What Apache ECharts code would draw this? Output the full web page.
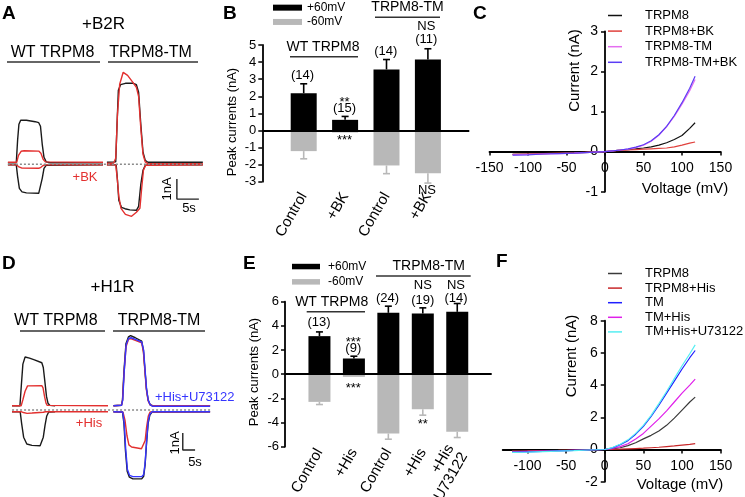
<!DOCTYPE html>
<html><head><meta charset="utf-8">
<script src="https://cdn.jsdelivr.net/npm/echarts@6/dist/echarts.min.js"></script>
<style>html,body{margin:0;padding:0;background:#fff}#c{width:745px;height:497px}</style>
</head><body><div id="c"></div>
<script>
// ---------- Panel A traces [time s, current nA] ----------
const aWtCtrlPos = [[1.8,0.08],[3.7,0.08],[4.0,1.2],[4.3,2.0],[4.7,2.2],[6,2.2],[8,2.13],[8.8,2.08],[9.2,1.9],[9.6,1.0],[10.0,0.35],[10.5,0.12],[11.4,0.08],[23.4,0.08]];
const aWtCtrlNeg = [[1.8,-0.03],[3.7,-0.03],[4.0,-0.6],[4.4,-1.2],[5.0,-1.38],[6,-1.43],[8.8,-1.45],[9.2,-1.35],[9.6,-0.7],[10.0,-0.2],[10.5,-0.05],[23.4,-0.03]];
const aWtBkPos = [[1.8,0.1],[3.8,0.1],[4.2,0.45],[4.8,0.65],[5.5,0.68],[8.8,0.66],[9.3,0.55],[9.8,0.25],[10.3,0.12],[23.4,0.1]];
const aWtBkNeg = [[1.8,-0.03],[3.8,-0.03],[4.3,-0.13],[5,-0.19],[8.8,-0.2],[9.3,-0.15],[9.8,-0.06],[10.3,-0.03],[23.4,-0.03]];
const aTmCtrlPos = [[24.3,0.1],[26.3,0.12],[26.6,2.0],[26.9,3.7],[27.4,3.98],[28.5,4.05],[30.3,4.05],[31.0,3.98],[31.5,3.6],[32.0,2.0],[32.5,0.6],[33.0,0.2],[33.6,0.1],[46.1,0.1]];
const aTmCtrlNeg = [[24.3,-0.03],[26.4,-0.03],[26.7,-0.8],[27.0,-1.8],[27.6,-2.15],[28.4,-2.22],[29.5,-2.28],[31.0,-2.3],[31.5,-2.1],[32.0,-1.0],[32.5,-0.3],[33.0,-0.06],[33.6,-0.03],[46.1,-0.03]];
const aTmBkPos = [[24.3,0.05],[25.8,0.05],[26.1,0.15],[26.3,0.3],[26.7,2.5],[27.2,4.0],[28.0,4.6],[28.3,4.65],[29.0,4.45],[30.2,4.1],[31.0,3.85],[31.5,3.4],[32.0,1.8],[32.5,0.5],[33.0,0.12],[33.6,0.03],[46.1,0.03]];
const aTmBkNeg = [[24.3,-0.03],[26.3,-0.03],[26.6,-0.6],[27.0,-1.6],[27.5,-2.2],[28.5,-2.5],[29.9,-2.6],[31.0,-2.4],[31.8,-2.2],[32.2,-1.2],[32.6,-0.3],[33.1,-0.05],[46.1,-0.03]];
const aBaseline = [[1.8,0],[46.1,0]];
const aScaleOrigin = [40.2,-1.74], aScaleSize = [5,1];

// ---------- Panel D traces ----------
const dWtCtrlPos = [[4.9,0.25],[8.1,0.25],[8.7,1.5],[9.3,2.7],[10.2,3.12],[12,3.05],[14,2.95],[17,2.78],[17.6,2.5],[18.3,1.6],[18.9,0.8],[19.5,0.4],[20.3,0.27],[22.4,0.25]];
const dWtCtrlNeg = [[4.9,-0.1],[8.2,-0.1],[8.8,-0.8],[9.6,-1.6],[10.9,-2.0],[13,-2.08],[16.3,-2.1],[17.0,-2.0],[17.6,-1.6],[18.3,-0.9],[19.0,-0.35],[19.8,-0.12],[22.4,-0.1]];
const dWtHisPos = [[4.9,0.25],[8.6,0.25],[9.3,0.6],[10.2,1.1],[11.2,1.42],[12,1.47],[17,1.43],[17.5,1.3],[18.1,0.8],[18.7,0.4],[19.2,0.27],[43.9,0.25]];
const dWtHisNeg = [[4.9,-0.1],[8.6,-0.1],[9.5,-0.15],[11,-0.2],[13,-0.18],[17.6,-0.13],[18.5,-0.1],[43.9,-0.1]];
const dTmCtrlPos = [[46.1,0.25],[49.4,0.28],[49.8,0.6],[50.4,2.3],[51.2,3.9],[52.2,4.3],[53.1,4.38],[55,4.25],[57.6,4.05],[58.3,3.5],[58.9,2.4],[59.5,1.3],[60.2,0.6],[61.0,0.32],[62,0.25],[85.4,0.25]];
const dTmCtrlNeg = [[46.1,-0.1],[49.8,-0.12],[50.4,-0.8],[51.0,-2.4],[51.7,-3.6],[52.6,-3.95],[54,-4.05],[57.6,-4.05],[58.4,-3.9],[59.0,-3.2],[59.6,-1.9],[60.2,-0.8],[60.9,-0.3],[61.8,-0.12],[85.4,-0.1]];
const dTmHisPos = [[46.1,0.25],[49.4,0.28],[49.8,0.55],[50.4,2.1],[51.2,3.7],[52.2,4.15],[53.1,4.2],[55,4.1],[57.6,3.95],[58.3,3.4],[58.9,2.3],[59.5,1.2],[60.2,0.55],[61.0,0.3],[62,0.25],[85.4,0.25]];
const dTmHisNeg = [[46.1,-0.1],[50.0,-0.12],[50.8,-0.6],[51.6,-1.5],[52.4,-2.05],[53.5,-2.18],[57.5,-2.28],[58.3,-2.25],[59.0,-1.8],[59.6,-1.0],[60.3,-0.35],[61.0,-0.12],[85.4,-0.1]];
const dTmUPos = [[46.1,0.25],[49.4,0.28],[49.9,0.6],[50.5,2.3],[51.3,3.85],[52.3,4.22],[53.3,4.25],[55,4.15],[57.6,4.0],[58.4,3.5],[59.0,2.3],[59.6,1.2],[60.3,0.55],[61.1,0.3],[62,0.22],[85.4,0.22]];
const dTmUNeg = [[46.1,-0.1],[49.9,-0.12],[50.5,-0.8],[51.1,-2.3],[51.8,-3.5],[52.7,-3.85],[54,-3.92],[57.6,-3.92],[58.4,-3.8],[59.0,-3.1],[59.6,-1.8],[60.2,-0.7],[60.9,-0.25],[61.8,-0.1],[85.4,-0.1]];
const dBaseline = [[4.9,0],[85.4,0]];
const dScaleOrigin = [74.3,-2.35], dScaleSize = [5,1];

// ---------- Panel B bars ----------
const bLabels = ['', 'Control', '+BK', 'Control', '+BK', ''];
const bPos = [null, 2.18, 0.62, 3.57, 4.15, null];
const bPosErr = [null, 0.55, 0.2, 0.58, 0.63, null];
const bNeg = [null, -1.21, -0.12, -2.05, -2.5, null];
const bNegErr = [null, 0.45, 0, 0.48, 0.58, null];
const bTicks = [-3, 5, 1];

// ---------- Panel E bars ----------
const eLabels = ['', 'Control', '+His', 'Control', '+His', '+His\n+U73122', ''];
const ePos = [null, 3.15, 1.3, 5.08, 5.02, 5.16, null];
const ePosErr = [null, 0.35, 0.19, 0.55, 0.47, 0.69, null];
const eNeg = [null, -2.29, -0.22, -4.91, -2.9, -4.77, null];
const eNegErr = [null, 0.22, 0, 0.47, 0.49, 0.47, null];
const eTicks = [-6, 6, 2];

// ---------- Panel C I-V ----------
const ivV = [-120,-100,-80,-60,-40,-20,0,10,20,30,40,50,60,70,80,90,100,110,117];
const cTRPM8 = [-0.07,-0.06,-0.05,-0.04,-0.03,-0.02,0,0.02,0.04,0.05,0.07,0.09,0.12,0.16,0.22,0.3,0.4,0.58,0.72];
const cTRPM8BK = [-0.07,-0.06,-0.05,-0.04,-0.03,-0.01,0,0.02,0.03,0.04,0.05,0.06,0.07,0.08,0.09,0.12,0.16,0.21,0.24];
const cTM = [-0.08,-0.07,-0.06,-0.05,-0.04,-0.02,0,0.02,0.04,0.06,0.1,0.16,0.26,0.41,0.62,0.88,1.18,1.52,1.8];
const cTMBK = [-0.09,-0.08,-0.06,-0.05,-0.04,-0.02,0,0.02,0.04,0.07,0.11,0.17,0.27,0.42,0.63,0.9,1.22,1.58,1.88];
const cXTicks = [-150, 150, 50], cYTicks = [-1, 3, 1];

// ---------- Panel F I-V ----------
const fTRPM8 = [-0.1,-0.09,-0.07,-0.05,-0.04,-0.02,0,0.04,0.11,0.24,0.42,0.66,0.88,1.15,1.5,1.95,2.45,2.95,3.25];
const fTRPM8His = [-0.1,-0.09,-0.07,-0.06,-0.04,-0.02,0,0.01,0.02,0.04,0.06,0.08,0.11,0.14,0.18,0.22,0.27,0.32,0.36];
const fTM = [-0.17,-0.15,-0.12,-0.09,-0.06,-0.03,0,0.1,0.3,0.55,0.95,1.44,2.05,2.75,3.5,4.25,5.0,5.7,6.15];
const fTMHis = [-0.14,-0.12,-0.1,-0.08,-0.05,-0.03,0,0.06,0.18,0.36,0.65,1.0,1.45,1.9,2.4,2.95,3.5,4.0,4.37];
const fTMHisU = [-0.18,-0.16,-0.13,-0.1,-0.07,-0.03,0,0.12,0.33,0.6,1.0,1.5,2.12,2.85,3.6,4.4,5.2,5.95,6.5];
const fXTickValues = [-100,-50,0,50,100,150];
const fXRange = [-132, 150], fYTicks = [-2, 8, 2];

// ---------- build ----------
const FONT = 'Liberation Sans, Arial, sans-serif';
const BLACK = '#1a1a1a', RED = '#e3302f', BLUE = '#3535ff', GREY = '#b8b8b8';
const chart = echarts.init(document.getElementById('c'), null, {renderer:'canvas'});

function pairs(xs, ys){ return xs.map((x,i)=>[x, ys[i]]); }
function traceSeries(name, data, idx, color, z){
  return {type:'line', name, data, xAxisIndex:idx, yAxisIndex:idx, symbol:'none', z: z||2,
    lineStyle:{color, width:1.4}, itemStyle:{color}, silent:true};
}
function scalePath(o, s){ return [[o[0], o[1]+s[1]], [o[0], o[1]], [o[0]+s[0], o[1]]]; }
function hiddenAxes(idx, xr, yr){
  return {x:{type:'value', gridIndex:idx, min:xr[0], max:xr[1], show:false},
          y:{type:'value', gridIndex:idx, min:yr[0], max:yr[1], show:false}};
}
function errSeries(idx, vals, errs, color, cap){
  const data = [];
  vals.forEach((v,i)=>{ if(v!==null) data.push([i, v, errs[i]]); });
  return {type:'custom', xAxisIndex:idx, yAxisIndex:idx, data, silent:true, z:3,
    renderItem(params, api){
      const x = api.value(0), v = api.value(1), e = api.value(2);
      if(!e) return null;
      const p0 = api.coord([x, v]);
      const p1 = api.coord([x, v >= 0 ? v + e : v - e]);
      return {type:'group', children:[
        {type:'line', shape:{x1:p0[0], y1:p0[1], x2:p1[0], y2:p1[1]}, style:{stroke:color, lineWidth:1.6}},
        {type:'line', shape:{x1:p1[0]-cap/2, y1:p1[1], x2:p1[0]+cap/2, y2:p1[1]}, style:{stroke:color, lineWidth:1.6}}
      ]};
    }};
}
function barAxes(idx, labels, ticks, labelRotate, labelMargin){
  return {
    x:{type:'category', gridIndex:idx, boundaryGap:false, data:labels.map((_,i)=>String(i)),
       axisLine:{show:false, onZero:false}, axisTick:{show:false},
       axisLabel:{interval:0, rotate:labelRotate, margin:labelMargin, fontSize:15, lineHeight:16, color:'#000', fontFamily:FONT,
         formatter:(v)=>labels[+v]}},
    y:{type:'value', gridIndex:idx, min:ticks[0], max:ticks[1], interval:ticks[2],
       axisLine:{show:true, lineStyle:{color:'#000', width:1.8}},
       axisTick:{show:true, length:4, lineStyle:{color:'#000', width:1.5}},
       splitLine:{show:false},
       axisLabel:{fontSize:13, color:'#000', margin:6, fontFamily:FONT}}
  };
}
// I-V axes cross at zero: shift each axis from the grid edge to the zero position
function ivAxes(idx, grid, xmin, xmax, xint, ymin, ymax, yint, customX){
  const xOff = -grid.height * (0 - ymin) / (ymax - ymin);
  const yOff = -grid.width * (0 - xmin) / (xmax - xmin);
  const x = {type:'value', gridIndex:idx, min:xmin, max:xmax, position:'bottom', offset:xOff,
     axisLine:{onZero:false, lineStyle:{color:'#000', width:1.8}},
     axisTick:{length:4, lineStyle:{color:'#000', width:1.5}},
     splitLine:{show:false},
     axisLabel:{fontSize:14, color:'#000', margin:10, fontFamily:FONT}};
  if(customX){ x.axisLabel.customValues = customX; x.axisTick.customValues = customX;
    x.axisLabel.formatter = (v)=> (v % 50 === 0 ? String(v) : ''); }
  else x.interval = xint;
  const y = {type:'value', gridIndex:idx, min:ymin, max:ymax, interval:yint, position:'left', offset:yOff,
     axisLine:{onZero:false, lineStyle:{color:'#000', width:1.8}},
     axisTick:{length:4, lineStyle:{color:'#000', width:1.5}},
     splitLine:{show:false},
     axisLabel:{fontSize:14, color:'#000', margin:7, fontFamily:FONT}};
  return {x, y};
}

const gridBoxes = [
  {left:0, top:64.3, width:220, height:160},          // A
  {left:262.3, top:45, width:207, height:136.7},      // B
  {left:489.5, top:31.3, width:231, height:160.4},    // C
  {left:0, top:308, width:209.1, height:187},         // D
  {left:285, top:301.7, width:206.7, height:145},     // E
  {left:502.7, top:320.7, width:218, height:161}      // F
];
const grids = gridBoxes.map(g=>Object.assign({outerBoundsMode:'none', containLabel:false}, g));

const axA = hiddenAxes(0, [0,50], [-3,5]);
const axB = barAxes(1, bLabels, bTicks, 60, 12);
const axC = ivAxes(2, gridBoxes[2], cXTicks[0], cXTicks[1], cXTicks[2], cYTicks[0], cYTicks[1], cYTicks[2]);
const axD = hiddenAxes(3, [0,85], [-5,6]);
const axE = barAxes(4, eLabels, eTicks, 60, 3);
const axF = ivAxes(5, gridBoxes[5], fXRange[0], fXRange[1], 50, fYTicks[0], fYTicks[1], fYTicks[2], fXTickValues);

const series = [];
// A traces
[[aWtCtrlPos,BLACK],[aWtCtrlNeg,BLACK],[aTmCtrlPos,BLACK],[aTmCtrlNeg,BLACK],
 [aWtBkPos,RED],[aWtBkNeg,RED],[aTmBkPos,RED],[aTmBkNeg,RED]].forEach(([d,c],i)=>series.push(traceSeries('a'+i, d, 0, c)));
series.push({type:'line', data:aBaseline, xAxisIndex:0, yAxisIndex:0, symbol:'none', silent:true, z:4,
  lineStyle:{color:'#8a8a8a', width:1.6, type:[2,2]}});
series.push({type:'line', data:scalePath(aScaleOrigin, aScaleSize), xAxisIndex:0, yAxisIndex:0, symbol:'none', silent:true,
  lineStyle:{color:'#222', width:1.4}});
// D traces
[[dWtCtrlPos,BLACK],[dWtCtrlNeg,BLACK],[dTmCtrlPos,BLACK],[dTmCtrlNeg,BLACK],
 [dWtHisPos,RED],[dWtHisNeg,RED],[dTmHisPos,RED],[dTmHisNeg,RED],
 [dTmUPos,BLUE],[dTmUNeg,BLUE]].forEach(([d,c],i)=>series.push(traceSeries('d'+i, d, 3, c)));
series.push({type:'line', data:dBaseline, xAxisIndex:3, yAxisIndex:3, symbol:'none', silent:true, z:4,
  lineStyle:{color:'#8a8a8a', width:1.6, type:[2,2]}});
series.push({type:'line', data:scalePath(dScaleOrigin, dScaleSize), xAxisIndex:3, yAxisIndex:3, symbol:'none', silent:true,
  lineStyle:{color:'#222', width:1.4}});

// B / E bars
function barSeries(name, idx, data, color, width, withZero){
  const s = {type:'bar', name, xAxisIndex:idx, yAxisIndex:idx, data, barWidth:width, barGap:'-100%',
    itemStyle:{color}, silent:true, z:2};
  if(withZero) s.markLine = {silent:true, symbol:'none', label:{show:false}, z:5,
    lineStyle:{color:'#000', width:1.8, type:'solid'}, data:[{yAxis:0}]};
  return s;
}
series.push(barSeries('+60mV', 1, bPos, '#000', 26, true));
series.push(barSeries('-60mV', 1, bNeg, GREY, 26, false));
series.push(errSeries(1, bPos, bPosErr, '#000', 7));
series.push(errSeries(1, bNeg, bNegErr, GREY, 7));
series.push(barSeries('+60mV', 4, ePos, '#000', 22, true));
series.push(barSeries('-60mV', 4, eNeg, GREY, 22, false));
series.push(errSeries(4, ePos, ePosErr, '#000', 7));
series.push(errSeries(4, eNeg, eNegErr, GREY, 7));

// IV curves
function ivSeries(name, idx, ys, color){
  return {type:'line', name, xAxisIndex:idx, yAxisIndex:idx, data:pairs(ivV, ys), symbol:'none', silent:true,
    color, lineStyle:{color, width:1.2}, itemStyle:{color}};
}
series.push(ivSeries('TRPM8', 2, cTRPM8, '#111'));
series.push(ivSeries('TRPM8+BK', 2, cTRPM8BK, '#e0403c'));
series.push(ivSeries('TRPM8-TM', 2, cTM, '#e46ef0'));
series.push(ivSeries('TRPM8-TM+BK', 2, cTMBK, '#5b3cf5'));
series.push(ivSeries('TRPM8 ', 5, fTRPM8, '#3a3a3a'));
series.push(ivSeries('TRPM8+His', 5, fTRPM8His, '#c8282a'));
series.push(ivSeries('TM+His', 5, fTMHis, '#e020ea'));
series.push(ivSeries('TM', 5, fTM, '#1f1fff'));
series.push(ivSeries('TM+His+U73122', 5, fTMHisU, '#55eef2'));

const legendBase = {orient:'vertical', padding:0, itemGap:0, icon:'rect', selectedMode:false,
  textStyle:{color:'#000', fontFamily:FONT}};
const legends = [
  Object.assign({}, legendBase, {left:273, top:0.5, itemWidth:29, itemHeight:6, data:['+60mV','-60mV'],
    textStyle:{color:'#000', fontFamily:FONT, fontSize:12, lineHeight:14.3}}),
  Object.assign({}, legendBase, {left:292, top:258.9, itemWidth:28, itemHeight:5.5, data:['+60mV','-60mV'],
    textStyle:{color:'#000', fontFamily:FONT, fontSize:12, lineHeight:15.3, padding:[0,0,0,3]}}),
  Object.assign({}, legendBase, {left:608, top:7.7, itemWidth:14, itemHeight:1.5,
    data:['TRPM8','TRPM8+BK','TRPM8-TM','TRPM8-TM+BK'],
    textStyle:{color:'#000', fontFamily:FONT, fontSize:13, lineHeight:15.6, padding:[0,0,0,18]}}),
  Object.assign({}, legendBase, {left:608, top:266.2, itemWidth:14, itemHeight:1.5,
    data:['TRPM8 ','TRPM8+His','TM','TM+His','TM+His+U73122'],
    formatter:(n)=>n.trim(),
    textStyle:{color:'#000', fontFamily:FONT, fontSize:13, lineHeight:14.6, padding:[0,0,0,18]}})
];

function T(x, y, text, o){
  o = o || {};
  return {type:'text', x, y, rotation:o.rot||0, silent:true, z:10,
    style:{text, fill:o.color||'#000', fontSize:o.size||13, fontFamily:FONT, fontWeight:o.bold?'bold':'normal',
      align:o.align||'center', verticalAlign:'middle', textAlign:o.align||'center', textVerticalAlign:'middle'}};
}
function L(x1, y1, x2, y2){
  return {type:'line', silent:true, z:10, shape:{x1,y1,x2,y2}, style:{stroke:'#333', lineWidth:1.5}};
}
const R90 = Math.PI/2;
const graphics = [
  T(2,14,'A',{bold:true,size:19,align:'left'}), T(223,14,'B',{bold:true,size:19,align:'left'}),
  T(473,14,'C',{bold:true,size:19,align:'left'}), T(2,264,'D',{bold:true,size:19,align:'left'}),
  T(243,264,'E',{bold:true,size:19,align:'left'}), T(496,262,'F',{bold:true,size:19,align:'left'}),
  // A
  T(103.5,24,'+B2R',{size:17}),
  T(52.5,52.3,'WT TRPM8',{size:16}), L(7,62,100,62),
  T(150.5,52.3,'TRPM8-TM',{size:16}), L(108,62,198,62),
  T(85,177,'+BK',{color:'#e3302f'}),
  T(167,189,'1nA',{rot:R90}), T(189,208,'5s'),
  // D
  T(112.5,287,'+H1R',{size:17}),
  T(55.8,320.7,'WT TRPM8',{size:16}), L(20,331,105,331),
  T(159,320.7,'TRPM8-TM',{size:16}), L(113,331,205,331),
  T(89,423,'+His',{color:'#e3302f'}),
  T(155,397,'+His+U73122',{color:'#3535ff',align:'left'}),
  T(175,443,'1nA',{rot:R90}), T(195,462,'5s'),
  // B
  T(232,122,'Peak currents (nA)',{rot:R90}),
  T(323,46.7,'WT TRPM8',{size:14}), L(290,56.7,358,56.7),
  T(407.5,7.3,'TRPM8-TM',{size:14}), L(375,17.3,440,17.3),
  T(302.5,75,'(14)'), T(344.5,102,'**'), T(344.5,108.5,'(15)'), T(344.5,140,'***'),
  T(385.8,51.7,'(14)'), T(426.3,26,'NS'), T(426.3,39.3,'(11)'), T(427,190.7,'NS'),
  // E
  T(254,372,'Peak currents (nA)',{rot:R90}),
  T(331.7,302.3,'WT TRPM8',{size:14}), L(306.7,311.7,365,311.7),
  T(428.7,266,'TRPM8-TM',{size:14}), L(376,276,470.7,276),
  T(319,322.3,'(13)'), T(353.3,342,'***'), T(353.3,348.5,'(9)'), T(353.3,388,'***'),
  T(387.5,298.3,'(24)'), T(422.8,285,'NS'), T(422.8,300,'(19)'),
  T(456,285,'NS'), T(456,298.3,'(14)'), T(422.8,424.5,'**'),
  // C / F axis names
  T(575,70.5,'Current (nA)',{rot:R90,size:15}), T(685,189,'Voltage (mV)',{size:15}),
  T(572,356,'Current (nA)',{rot:R90,size:15}), T(680,485,'Voltage (mV)',{size:15})
];

chart.setOption({
  animation:false, backgroundColor:'#fff',
  textStyle:{fontFamily:FONT},
  grid:grids,
  xAxis:[axA.x, axB.x, axC.x, axD.x, axE.x, axF.x],
  yAxis:[axA.y, axB.y, axC.y, axD.y, axE.y, axF.y],
  legend:legends,
  series,
  graphic:graphics
});
</script></body></html>
